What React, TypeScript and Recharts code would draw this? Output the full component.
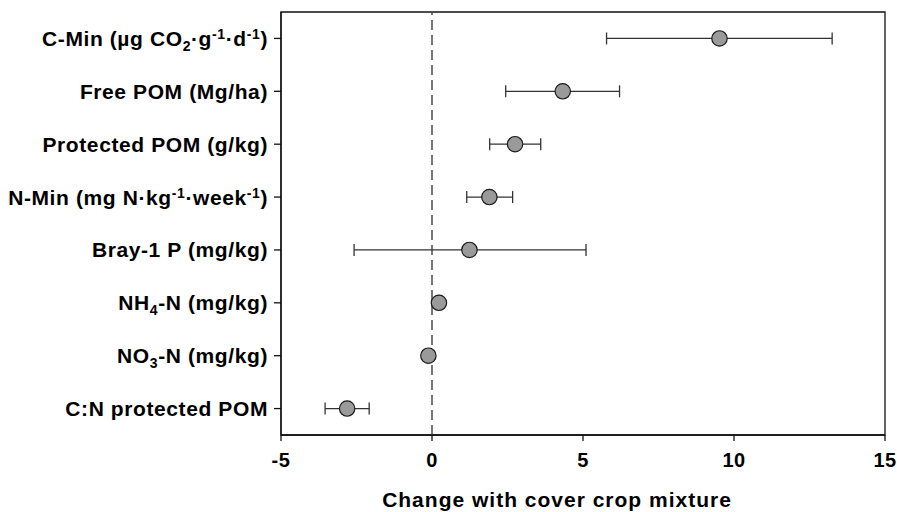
import { ScatterChart, Scatter, XAxis, YAxis, ErrorBar, ReferenceLine, ReferenceArea } from 'recharts';

// rows top to bottom
const categories = ['cmin', 'freePom', 'protPom', 'nmin', 'bray', 'nh4', 'no3', 'cnPom'];
const means = [9.52, 4.33, 2.75, 1.9, 1.24, 0.23, -0.12, -2.81];
const lower = [5.78, 2.44, 1.91, 1.15, -2.58, null, null, -3.54];
const upper = [13.25, 6.21, 3.6, 2.67, 5.1, null, null, -2.08];
const xTicks = [-5, 0, 5, 10, 15];

// label pieces: [text, 'sub' | 'sup' | undefined]
type Seg = [string, ('sub' | 'sup')?];
const labels: Seg[][] = [
  [['C-Min (µg CO'], ['2', 'sub'], ['·g'], ['-1', 'sup'], ['·d'], ['-1', 'sup'], [')']],
  [['Free POM (Mg/ha)']],
  [['Protected POM (g/kg)']],
  [['N-Min (mg N·kg'], ['-1', 'sup'], ['·week'], ['-1', 'sup'], [')']],
  [['Bray-1 P (mg/kg)']],
  [['NH'], ['4', 'sub'], ['-N (mg/kg)']],
  [['NO'], ['3', 'sub'], ['-N (mg/kg)']],
  [['C:N protected POM']],
];

const data = categories.map((name, i) => ({
  name,
  value: means[i],
  err: lower[i] == null ? null : [means[i] - (lower[i] as number), (upper[i] as number) - means[i]],
}));

const FONT = '"Liberation Sans", Arial, sans-serif';

function CategoryTick({ x, y, payload }: any) {
  const segs = labels[categories.indexOf(payload.value)] ?? [[String(payload.value)]];
  let shift = 0;
  return (
    <text
      x={x}
      y={y + 7.5}
      textAnchor="end"
      fontFamily={FONT}
      fontWeight="bold"
      fontSize={21}
      letterSpacing={0.6}
      fill="#000"
    >
      {segs.map(([t, kind], i) => {
        const target = kind === 'sub' ? 5 : kind === 'sup' ? -7 : 0;
        const dy = target - shift;
        shift = target;
        return (
          <tspan key={i} dy={dy} fontSize={kind ? 14 : 21}>
            {t}
          </tspan>
        );
      })}
    </text>
  );
}

function Dot({ cx, cy }: any) {
  if (cx == null || cy == null) return null;
  return <circle cx={cx} cy={cy} r={7.7} fill="#9a9a9a" stroke="#1a1a1a" strokeWidth={1.2} />;
}

function XTitle({ viewBox }: any) {
  const { x, y, width, height } = viewBox;
  return (
    <text
      x={x + width / 2 - 26}
      y={y + height - 5}
      textAnchor="middle"
      fontFamily={FONT}
      fontWeight="bold"
      fontSize={21}
      letterSpacing={1}
      fill="#000"
    >
      Change with cover crop mixture
    </text>
  );
}

export default function App() {
  return (
    <div style={{ position: 'absolute', left: 0, top: 0, background: '#fff' }}>
      <ScatterChart width={897} height={512} margin={{ top: 12, right: 12, left: 5, bottom: 0 }}>
        <XAxis
          type="number"
          dataKey="value"
          domain={[-5, 15]}
          ticks={xTicks}
          allowDataOverflow
          height={77}
          tickSize={6}
          tickMargin={12}
          axisLine={{ stroke: '#111', strokeWidth: 1.3 }}
          tickLine={{ stroke: '#111', strokeWidth: 1.3 }}
          tick={{ fontFamily: FONT, fontWeight: 'bold', fontSize: 20, fill: '#000', letterSpacing: 0.5 }}
          label={{ content: XTitle }}
        />
        <YAxis
          type="category"
          dataKey="name"
          reversed
          width={276}
          tickSize={7}
          tickMargin={6}
          interval={0}
          axisLine={{ stroke: '#111', strokeWidth: 1.3 }}
          tickLine={{ stroke: '#111', strokeWidth: 1.3 }}
          tick={<CategoryTick />}
        />
        {/* plot frame */}
        <ReferenceArea x1={-5} x2={15} fill="none" stroke="#111" strokeWidth={1.3} />
        <ReferenceLine x={0} stroke="#555" strokeWidth={1.6} strokeDasharray="10 5" />
        <Scatter data={data} shape={<Dot />} isAnimationActive={false}>
          <ErrorBar
            dataKey="err"
            direction="x"
            width={6}
            stroke="#333"
            strokeWidth={1.3}
            isAnimationActive={false}
          />
        </Scatter>
      </ScatterChart>
    </div>
  );
}
